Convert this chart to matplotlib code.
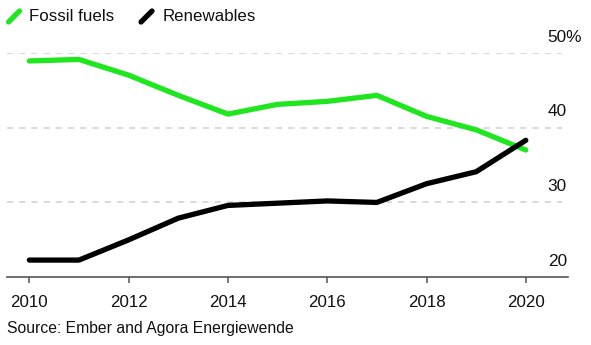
import matplotlib
matplotlib.use("Agg")
import matplotlib.pyplot as plt
from matplotlib.lines import Line2D
from matplotlib.transforms import offset_copy

plt.rcParams["font.family"] = ["Liberation Sans", "DejaVu Sans"]

years = [2010, 2011, 2012, 2013, 2014, 2015, 2016, 2017, 2018, 2019, 2020]
fossil = [48.9, 49.1, 47.0, 44.3, 41.8, 43.1, 43.5, 44.3, 41.5, 39.7, 37.0]
renewables = [22.3, 22.3, 25.0, 27.9, 29.6, 29.9, 30.2, 30.0, 32.5, 34.1, 38.3]
xticks = [2010, 2012, 2014, 2016, 2018, 2020]
yticks = [20, 30, 40, 50]
ytick_labels = ["20", "30", "40", "50%"]

GREEN = "#1fe61f"
W, H = 591, 345
fig = plt.figure(figsize=(W / 100, H / 100), dpi=100)
ax = fig.add_axes([7 / W, 1 - 277.3 / H, (568 - 7) / W, (277.3 - 52.7) / H])

ax.set_xlim(2009.55, 2020.85)
ax.set_ylim(20, 50)

# dashed grid lines
ax.hlines([30, 40, 50], 2009.55, 2020.72, colors="#cfcfcf", linewidth=1.1,
          linestyles=(0, (4, 4)), zorder=1)

ax.plot(years, fossil, color=GREEN, linewidth=3.8, solid_capstyle="round",
        solid_joinstyle="round", clip_on=False, zorder=3)
ax.plot(years, renewables, color="black", linewidth=3.8, solid_capstyle="round",
        solid_joinstyle="round", clip_on=False, zorder=4)

for s in ["top", "right", "left"]:
    ax.spines[s].set_visible(False)
ax.spines["bottom"].set_color("#555555")
ax.spines["bottom"].set_linewidth(1.2)
ax.set_yticks([])
ax.set_xticks(xticks)
ax.set_xticklabels([str(x) for x in xticks], fontsize=12.2, color="#111111")
ax.tick_params(axis="x", length=4.5, width=1.1, color="#555555", pad=8)

# value labels on the right, sitting above their grid lines
lab_tr = offset_copy(ax.transData, fig=fig, x=0, y=11.3, units="points")
for v, t in zip(yticks, ytick_labels):
    ax.text(2020.44, v, t, transform=lab_tr, ha="left", va="center",
            fontsize=12.4, color="#111111")

# legend
fig.add_artist(Line2D([8.5 / W, 19.5 / W], [1 - 22 / H, 1 - 11 / H], color=GREEN,
                      linewidth=3.8, solid_capstyle="round"))
fig.text(29 / W, 1 - 16.5 / H, "Fossil fuels", fontsize=12.2, va="center", ha="left",
         color="#111111")
fig.add_artist(Line2D([141 / W, 152 / W], [1 - 22 / H, 1 - 11 / H], color="black",
                      linewidth=3.8, solid_capstyle="round"))
fig.text(163 / W, 1 - 16.5 / H, "Renewables", fontsize=12.2, va="center", ha="left",
         color="#111111")

fig.text(7 / W, 1 - 329 / H, "Source: Ember and Agora Energiewende", fontsize=11.3,
         va="center", ha="left", color="#111111")

fig.savefig("out.png", dpi=100)
